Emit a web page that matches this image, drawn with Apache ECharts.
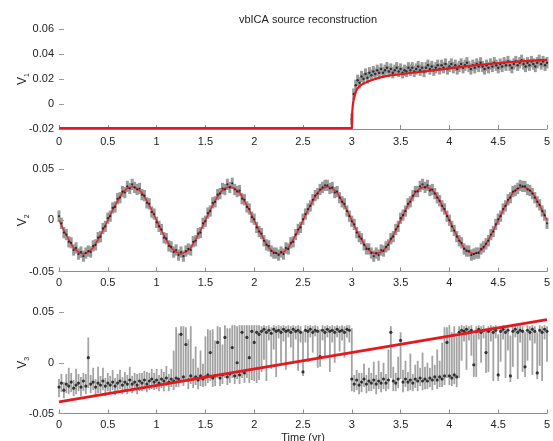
<!DOCTYPE html>
<html>
<head>
<meta charset="utf-8">
<script src="https://cdn.jsdelivr.net/npm/echarts@6/dist/echarts.min.js"></script>
<style>html,body{margin:0;padding:0;background:#fff}#c{width:553px;height:441px}</style>
</head>
<body>
<div id="c"></div>
<script>
// ---------- DATA ----------
const titleText = 'vbICA source reconstruction';
const xLabel = 'Time (yr)';
const yNames = ['1', '2', '3'];

// Panel 1 (V1): flat before the step, samples every 0.02 yr from 3.00 to 5.00
const t1Pre = [0, 3.0];
const v1Pre = [-0.0196, -0.0196];
const t1Start = 3.0, t1Step = 0.02;
const v1Obs = [
 -0.012, 0.008, 0.015, 0.019, 0.017, 0.022, 0.020, 0.024, 0.021, 0.025,
  0.023, 0.026, 0.024, 0.027, 0.025, 0.028, 0.025, 0.027, 0.029, 0.026,
  0.028, 0.025, 0.027, 0.029, 0.026, 0.028, 0.025, 0.027, 0.026, 0.029,
  0.027, 0.029, 0.026, 0.028, 0.030, 0.027, 0.029, 0.026, 0.029, 0.031,
  0.028, 0.030, 0.027, 0.029, 0.031, 0.028, 0.031, 0.029, 0.032, 0.028,
  0.030, 0.032, 0.029, 0.031, 0.028, 0.030, 0.032, 0.029, 0.031, 0.033,
  0.030, 0.028, 0.031, 0.029, 0.032, 0.030, 0.033, 0.030, 0.028, 0.031,
  0.029, 0.032, 0.030, 0.033, 0.031, 0.029, 0.032, 0.030, 0.033, 0.031,
  0.034, 0.031, 0.029, 0.032, 0.034, 0.031, 0.033, 0.035, 0.032, 0.030,
  0.033, 0.031, 0.034, 0.032, 0.030, 0.033, 0.035, 0.032, 0.034, 0.031,
  0.033
];
const v1Err = 0.0045;
const t1Fit = [0, 3.0, 3.002, 3.005, 3.01, 3.02, 3.035, 3.05, 3.075, 3.1, 3.15, 3.2, 3.3, 3.4, 3.5, 3.6, 3.8, 4.0, 4.2, 4.4, 4.6, 4.8, 5.0];
const v1Fit = [-0.0193, -0.0193, -0.012, -0.006, -0.001, 0.004, 0.008, 0.0115, 0.014, 0.0155, 0.0175, 0.019, 0.0215, 0.023, 0.0238, 0.0248, 0.0266, 0.0285, 0.0304, 0.032, 0.0334, 0.0345, 0.0353];

// Panel 2 (V2): samples every 0.025 yr from 0 to 5
const t2Step = 0.025;
const v2Obs = [
  0.004,-0.003,-0.012,-0.014,-0.021,-0.022,-0.029,-0.027,-0.033,-0.031,
 -0.035,-0.032,-0.030,-0.031,-0.025,-0.024,-0.017,-0.016,-0.008,-0.006,
  0.002, 0.004, 0.012, 0.013, 0.021, 0.022, 0.028, 0.027, 0.033, 0.031,
  0.035, 0.032, 0.030, 0.031, 0.025, 0.024, 0.017, 0.016, 0.008, 0.006,
 -0.002,-0.006,-0.009,-0.017,-0.018,-0.025,-0.026,-0.031,-0.029,-0.034,
 -0.031,-0.035,-0.030,-0.028,-0.029,-0.021,-0.020,-0.013,-0.012,-0.003,
 -0.001, 0.007, 0.009, 0.017, 0.018, 0.025, 0.026, 0.031, 0.030, 0.035,
  0.032, 0.036, 0.030, 0.028, 0.029, 0.021, 0.020, 0.013, 0.011, 0.003,
  0.001,-0.007,-0.011,-0.013,-0.020,-0.024,-0.025,-0.030,-0.032,-0.032,
 -0.034,-0.031,-0.033,-0.027,-0.028,-0.022,-0.021,-0.014,-0.009,-0.007,
  0.001, 0.006, 0.011, 0.014, 0.020, 0.024, 0.026, 0.030, 0.032, 0.034,
  0.034, 0.031, 0.032, 0.027, 0.028, 0.022, 0.018, 0.016, 0.009, 0.004,
 -0.001,-0.004,-0.012,-0.016,-0.018,-0.024,-0.028,-0.028,-0.032,-0.035,
 -0.032,-0.034,-0.029,-0.030,-0.026,-0.024,-0.018,-0.016,-0.009,-0.006,
  0.002, 0.005, 0.009, 0.016, 0.018, 0.024, 0.028, 0.028, 0.033, 0.035,
  0.032, 0.034, 0.029, 0.030, 0.026, 0.022, 0.019, 0.014, 0.011, 0.004,
  0.000,-0.006,-0.010,-0.016,-0.020,-0.022,-0.028,-0.030,-0.030,-0.034,
 -0.033,-0.032,-0.032,-0.028,-0.026,-0.023,-0.020,-0.014,-0.011,-0.004,
  0.001, 0.004, 0.011, 0.014, 0.020, 0.022, 0.028, 0.029, 0.031, 0.034,
  0.033, 0.033, 0.030, 0.029, 0.026, 0.022, 0.018, 0.015, 0.009, 0.005,
 -0.003
];
const v2Err = 0.0055;
const t2FitStep = 0.05;
const v2Fit = [
  0.000,-0.010,-0.019,-0.027,-0.031,-0.033,-0.031,-0.027,-0.019,-0.010,
  0.000, 0.010, 0.019, 0.027, 0.031, 0.033, 0.031, 0.027, 0.019, 0.010,
  0.000,-0.010,-0.019,-0.027,-0.031,-0.033,-0.031,-0.027,-0.019,-0.010,
  0.000, 0.010, 0.019, 0.027, 0.031, 0.033, 0.031, 0.027, 0.019, 0.010,
  0.000,-0.010,-0.019,-0.027,-0.031,-0.033,-0.031,-0.027,-0.019,-0.010,
  0.000, 0.010, 0.019, 0.027, 0.031, 0.033, 0.031, 0.027, 0.019, 0.010,
  0.000,-0.010,-0.019,-0.027,-0.031,-0.033,-0.031,-0.027,-0.019,-0.010,
  0.000, 0.010, 0.019, 0.027, 0.031, 0.033, 0.031, 0.027, 0.019, 0.010,
  0.000,-0.010,-0.019,-0.027,-0.031,-0.033,-0.031,-0.027,-0.019,-0.010,
  0.000, 0.010, 0.019, 0.027, 0.031, 0.033, 0.031, 0.027, 0.019, 0.010,
  0.000
];

// Panel 3 (V3): samples every 0.025 yr, with asymmetric error bars
const t3Step = 0.025;
const v3Obs = [
 -0.024,-0.020,-0.027,-0.021,-0.023,-0.019,-0.025,-0.022,-0.020,-0.024,
 -0.018,-0.023, 0.005,-0.021,-0.019,-0.024,-0.020,-0.022,-0.018,-0.023,
 -0.020,-0.022,-0.019,-0.023,-0.020,-0.018,-0.022,-0.019,-0.021,-0.017,
 -0.021,-0.019,-0.022,-0.018,-0.020,-0.017,-0.021,-0.018,-0.016,-0.019,
 -0.017,-0.020,-0.016,-0.018,-0.015,-0.019,-0.016,-0.018,-0.015,-0.016,
  0.028,-0.014, 0.018,-0.017,-0.013,-0.016,-0.014,-0.017,-0.013,-0.016,
 -0.014,-0.012, 0.010,-0.015,-0.013, 0.020,-0.015,-0.012, 0.025,-0.014,
 -0.011, 0.015,-0.013, 0.000,-0.012, 0.030,-0.010, 0.025, 0.005, 0.031,
  0.020, 0.030, 0.028, 0.031, 0.033, 0.030, 0.032, 0.029, 0.033, 0.031,
  0.032, 0.030, 0.033, 0.031, 0.032, 0.030, 0.033, 0.031, 0.032, 0.030,
 -0.009, 0.032, 0.031, 0.033, 0.030, 0.032, 0.031, 0.006, 0.032, 0.030,
  0.033, 0.031, 0.032, 0.030, 0.033, 0.031, 0.032, 0.030, 0.033, 0.032,
 -0.016,-0.021,-0.017,-0.022,-0.019,-0.016,-0.021,-0.018,-0.020,-0.017,
 -0.021,-0.018,-0.020,-0.016,-0.020,-0.017, 0.030,-0.018,-0.020,-0.016,
  0.022,-0.019,-0.016,-0.019,-0.017,-0.020,-0.016,-0.018,-0.015,-0.018,
 -0.016,-0.018,-0.015,-0.017,-0.014,-0.017,-0.014,-0.016,-0.013, 0.020,
 -0.013,-0.015,-0.012,-0.014, 0.030, 0.032, 0.031, 0.033, 0.030, 0.032,
 -0.002, 0.031, 0.033, 0.030, 0.032, 0.010, 0.031, 0.033, 0.030, 0.032,
 -0.012, 0.031, 0.033, 0.030, 0.032,-0.013, 0.031, 0.033, 0.030, 0.032,
  0.031,-0.004, 0.032, 0.030, 0.033, 0.031,-0.010, 0.032, 0.030, 0.033,
  0.031
];
const v3Up = [
 .008,.009,.008,.010,.018,.009,.008,.016,.009,.010,
 .008,.012,.020,.009,.014,.008,.016,.009,.013,.008,
 .010,.009,.012,.008,.009,.011,.008,.010,.009,.013,
 .008,.009,.011,.008,.010,.009,.012,.008,.010,.009,
 .011,.008,.010,.009,.012,.008,.010,.030,.050,.045,
 .008,.050,.017,.040,.049,.020,.030,.012,.025,.015,
 .040,.045,.022,.048,.035,.016,.050,.030,.012,.048,
 .045,.022,.050,.036,.049,.007,.047,.012,.032,.006,
 .017,.007,.009,.005,.004,.006,.005,.006,.004,.005,
 .005,.006,.004,.005,.005,.006,.004,.005,.005,.006,
 .040,.005,.005,.004,.006,.005,.005,.027,.005,.006,
 .004,.005,.005,.006,.004,.005,.005,.006,.004,.005,
 .050,.009,.010,.012,.009,.015,.009,.013,.010,.018,
 .009,.020,.011,.016,.009,.030,.006,.014,.010,.022,
 .008,.012,.018,.010,.026,.009,.014,.020,.010,.028,
 .012,.018,.010,.024,.012,.030,.016,.036,.048,.015,
 .050,.045,.048,.040,.006,.005,.005,.004,.006,.005,
 .030,.005,.004,.006,.005,.024,.005,.004,.006,.005,
 .040,.005,.004,.006,.005,.040,.005,.004,.006,.005,
 .005,.034,.005,.006,.004,.005,.040,.005,.006,.004,
 .005
];
const v3Dn = [
 .010,.009,.008,.009,.008,.010,.008,.009,.008,.009,
 .010,.008,.030,.009,.008,.009,.010,.008,.009,.010,
 .008,.009,.008,.009,.010,.008,.009,.008,.010,.008,
 .009,.008,.009,.010,.008,.009,.008,.009,.010,.008,
 .009,.008,.009,.010,.008,.009,.008,.009,.009,.008,
 .045,.009,.034,.009,.008,.009,.008,.009,.010,.008,
 .009,.008,.028,.009,.010,.035,.008,.009,.040,.008,
 .009,.030,.008,.016,.009,.045,.010,.040,.025,.048,
 .038,.050,.045,.040,.030,.048,.010,.035,.020,.045,
 .008,.030,.012,.038,.007,.015,.032,.008,.040,.010,
 .004,.012,.030,.008,.020,.006,.036,.010,.010,.025,
 .008,.040,.012,.030,.008,.020,.010,.025,.008,.012,
 .012,.008,.010,.009,.010,.008,.009,.010,.008,.009,
 .010,.008,.009,.010,.008,.009,.045,.010,.008,.009,
 .038,.010,.008,.009,.010,.008,.009,.010,.008,.009,
 .010,.008,.009,.010,.008,.009,.010,.008,.009,.035,
 .009,.008,.009,.010,.045,.030,.010,.040,.008,.025,
 .012,.045,.010,.030,.008,.020,.040,.012,.048,.008,
 .006,.030,.010,.045,.020,.006,.035,.008,.046,.012,
 .040,.010,.030,.008,.045,.012,.006,.035,.048,.010,
 .030
];
const t3Fit = [0, 5];
const v3Fit = [-0.0385, 0.0425];

// ---------- BUILD ----------
const t1 = v1Obs.map((_, i) => +(t1Start + i * t1Step).toFixed(3));
const t2 = v2Obs.map((_, i) => +(i * t2Step).toFixed(3));
const t2f = v2Fit.map((_, i) => +(i * t2FitStep).toFixed(3));
const t3 = v3Obs.map((_, i) => +(i * t3Step).toFixed(3));

const RED = '#e4181e';
const GREY = '#9a9a9a';
const BLACK = '#111111';
const FONT = '"Liberation Sans", Arial, sans-serif';

function errBars(name, xi, xs, ys, up, dn, width, color) {
  return {
    name, type: 'custom', xAxisIndex: xi, yAxisIndex: xi, z: 2,
    data: xs.map((x, i) => [x, ys[i] - (Array.isArray(dn) ? dn[i] : dn), ys[i] + (Array.isArray(up) ? up[i] : up)]),
    encode: { x: 0, y: [1, 2] },
    renderItem: (params, api) => {
      const a = api.coord([api.value(0), api.value(1)]);
      const b = api.coord([api.value(0), api.value(2)]);
      return { type: 'line', shape: { x1: a[0], y1: a[1], x2: b[0], y2: b[1] },
               style: { stroke: color, lineWidth: width } };
    },
    silent: true, animation: false
  };
}
function dots(name, xi, xs, ys, size) {
  return { name, type: 'scatter', xAxisIndex: xi, yAxisIndex: xi, z: 4,
    symbol: 'circle', symbolSize: size, itemStyle: { color: BLACK },
    data: xs.map((x, i) => [x, ys[i]]), silent: true, animation: false };
}
function line(name, xi, xs, ys, color, width, z, opacity) {
  return { name, type: 'line', xAxisIndex: xi, yAxisIndex: xi, z,
    showSymbol: false, symbol: 'none',
    lineStyle: { color, width, opacity: opacity == null ? 1 : opacity },
    data: xs.map((x, i) => [x, ys[i]]), silent: true, animation: false };
}

const grids = [
  { left: 59, right: 6, top: 29, height: 100, outerBoundsMode: 'none', containLabel: false },
  { left: 59, right: 6, top: 169, height: 102.5, outerBoundsMode: 'none', containLabel: false },
  { left: 59, right: 6, top: 312, height: 101.5, outerBoundsMode: 'none', containLabel: false }
];
const yRanges = [[-0.02, 0.06, 0.02], [-0.05, 0.05, 0.05], [-0.05, 0.05, 0.05]];
const xLabelMargins = [7, 6, 6];

const xAxes = grids.map((g, i) => ({
  type: 'value', gridIndex: i, min: 0, max: 5, interval: 0.5,
  axisLine: { show: true, onZero: false, lineStyle: { color: '#8c8c8c', width: 1 } },
  axisTick: { show: true, inside: true, length: 4, lineStyle: { color: '#8c8c8c' } },
  axisLabel: { color: '#222', fontSize: 11, fontFamily: FONT, margin: xLabelMargins[i] },
  splitLine: { show: false },
  name: i === 2 ? xLabel : '', nameLocation: 'middle', nameGap: 19, nameMoveOverlap: false,
  nameTextStyle: { color: '#222', fontSize: 11, fontFamily: FONT }
}));
const yAxes = grids.map((g, i) => ({
  type: 'value', gridIndex: i, min: yRanges[i][0], max: yRanges[i][1], interval: yRanges[i][2],
  axisLine: { show: false },
  axisTick: { show: true, inside: true, length: 5, lineStyle: { color: '#9a9a9a' } },
  axisLabel: { color: '#222', fontSize: 11, fontFamily: FONT, margin: 5 },
  splitLine: { show: false },
  name: '{v|V}{s|' + yNames[i] + '}', nameLocation: 'middle', nameGap: 30, nameRotate: 90,
  nameMoveOverlap: false,
  nameTextStyle: {
    fontFamily: FONT, color: '#222',
    rich: {
      v: { fontSize: 12, fontFamily: FONT, color: '#222', lineHeight: 14, verticalAlign: 'bottom' },
      s: { fontSize: 7, fontFamily: FONT, color: '#222', lineHeight: 7, verticalAlign: 'bottom', padding: [0, 0, -2, 0] }
    }
  }
}));

const series = [
  // panel 1
  line('v1pre', 0, t1Pre, v1Pre, BLACK, 1.2, 3),
  errBars('v1err', 0, t1, v1Obs, v1Err, v1Err, 3, GREY),
  dots('v1obs', 0, t1, v1Obs, 2.4),
  line('v1fit', 0, t1Fit, v1Fit, RED, 2.2, 5),
  // panel 2
  errBars('v2err', 1, t2, v2Obs, v2Err, v2Err, 3, GREY),
  line('v2fit', 1, t2f, v2Fit, RED, 1.6, 3, 0.8),
  dots('v2obs', 1, t2, v2Obs, 2.2),
  // panel 3
  errBars('v3err', 2, t3, v3Obs, v3Up, v3Dn, 1.8, '#a3a3a3'),
  dots('v3obs', 2, t3, v3Obs, 3.2),
  line('v3fit', 2, t3Fit, v3Fit, RED, 2.8, 5)
];

const chart = echarts.init(document.getElementById('c'), null, { renderer: 'canvas' });
chart.setOption({
  animation: false,
  backgroundColor: '#ffffff',
  title: { text: titleText, left: 303, top: 9, textAlign: 'center',
    textStyle: { fontSize: 11, fontWeight: 'normal', color: '#222', fontFamily: FONT } },
  grid: grids,
  xAxis: xAxes,
  yAxis: yAxes,
  series
});
</script>
</body>
</html>
